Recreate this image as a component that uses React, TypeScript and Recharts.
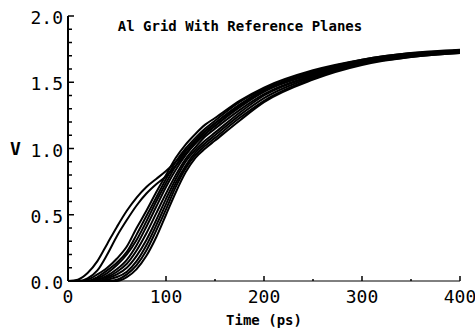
import React from 'react';
import { LineChart, Line, XAxis, YAxis } from 'recharts';

// time points (ps)
const times = [0, 10, 20, 30, 40, 50, 60, 70, 80, 90, 100, 110, 120, 130, 140, 150, 175, 200, 250, 300, 350, 400];

// voltage waveforms (V), one per node
const waveA = [0, 0.01, 0.06, 0.15, 0.28, 0.41, 0.53, 0.63, 0.71, 0.77, 0.83, 0.9, 0.98, 1.06, 1.13, 1.19, 1.33, 1.44, 1.58, 1.66, 1.71, 1.74];
const waveB = [0, 0, 0.02, 0.08, 0.2, 0.34, 0.46, 0.57, 0.66, 0.73, 0.79, 0.87, 0.96, 1.04, 1.11, 1.17, 1.32, 1.43, 1.57, 1.66, 1.71, 1.74];
const waveC1 = [0, 0, 0.01, 0.05, 0.1, 0.17, 0.26, 0.4, 0.53, 0.67, 0.8, 0.93, 1.03, 1.11, 1.18, 1.23, 1.36, 1.46, 1.59, 1.67, 1.72, 1.745];
const waveC2 = [0, 0, 0, 0.03, 0.08, 0.14, 0.22, 0.35, 0.49, 0.63, 0.77, 0.9, 1.0, 1.08, 1.15, 1.21, 1.35, 1.45, 1.58, 1.67, 1.72, 1.74];
const waveC3 = [0, 0, 0, 0.02, 0.06, 0.12, 0.2, 0.31, 0.45, 0.6, 0.74, 0.87, 0.98, 1.06, 1.13, 1.19, 1.33, 1.44, 1.57, 1.66, 1.71, 1.74];
const waveC4 = [0, 0, 0, 0.01, 0.04, 0.09, 0.16, 0.27, 0.41, 0.56, 0.71, 0.84, 0.95, 1.04, 1.11, 1.17, 1.31, 1.43, 1.56, 1.66, 1.71, 1.73];
const waveC5 = [0, 0, 0, 0.01, 0.03, 0.07, 0.13, 0.23, 0.36, 0.51, 0.66, 0.8, 0.92, 1.01, 1.09, 1.15, 1.29, 1.41, 1.55, 1.65, 1.7, 1.73];
const waveC6 = [0, 0, 0, 0, 0.02, 0.05, 0.1, 0.19, 0.31, 0.46, 0.62, 0.77, 0.9, 0.99, 1.06, 1.12, 1.27, 1.4, 1.55, 1.65, 1.7, 1.73];
const waveC7 = [0, 0, 0, 0, 0.01, 0.03, 0.07, 0.15, 0.27, 0.42, 0.58, 0.74, 0.87, 0.97, 1.04, 1.1, 1.25, 1.38, 1.54, 1.64, 1.7, 1.73];
const waveC8 = [0, 0, 0, 0, 0, 0.01, 0.05, 0.12, 0.23, 0.38, 0.54, 0.71, 0.85, 0.95, 1.02, 1.08, 1.23, 1.36, 1.53, 1.64, 1.69, 1.72];
const waveC9 = [0, 0, 0, 0, 0, 0, 0.03, 0.09, 0.19, 0.33, 0.5, 0.67, 0.82, 0.93, 1.0, 1.06, 1.21, 1.35, 1.52, 1.63, 1.69, 1.72];

const waves = [waveA, waveB, waveC1, waveC2, waveC3, waveC4, waveC5, waveC6, waveC7, waveC8, waveC9];

// axis ticks: labelled majors plus unlabelled minors
const xTicks = [0, 50, 100, 150, 200, 250, 300, 350, 400];
const xMajor = [0, 100, 200, 300, 400];
const yTicks = [0, 0.1, 0.2, 0.3, 0.4, 0.5, 0.6, 0.7, 0.8, 0.9, 1.0, 1.1, 1.2, 1.3, 1.4, 1.5, 1.6, 1.7, 1.8, 1.9, 2.0];
const yMajor = [0, 0.5, 1.0, 1.5, 2.0];

const chartData = times.map((t, i) => {
  const row: Record<string, number> = { t };
  waves.forEach((w, k) => {
    row[`v${k}`] = w[i];
  });
  return row;
});

const tickFont = { fontFamily: 'DejaVu Sans Mono', fontSize: 18, fill: '#000' };
const labelFont = { fontFamily: 'DejaVu Sans Mono', fontSize: 14, fontWeight: 700, fill: '#000' };

// ticks point into the plot, so the tick mark is drawn here along with its label
const XTick = ({ x, y, payload }: any) => {
  const major = xMajor.includes(payload.value);
  return (
    <g>
      <line x1={x} y1={y} x2={x} y2={y - (major ? 5 : 2)} stroke="#000" strokeWidth={1.5} />
      {major && (
        <text x={x} y={y + 22} textAnchor="middle" style={tickFont}>
          {payload.value}
        </text>
      )}
    </g>
  );
};

const YTick = ({ x, y, payload }: any) => {
  const major = yMajor.some((m) => Math.abs(m - payload.value) < 1e-6);
  return (
    <g>
      <line x1={x} y1={y} x2={x + (major ? 6 : 4)} y2={y} stroke="#000" strokeWidth={1.5} />
      {major && (
        <text x={x - 5} y={y + 8} textAnchor="end" style={tickFont}>
          {payload.value.toFixed(1)}
        </text>
      )}
    </g>
  );
};

export default function App() {
  return (
    <div style={{ position: 'absolute', left: 0, top: 0, background: '#fff' }}>
      <LineChart
        width={475}
        height={332}
        data={chartData}
        margin={{ top: 16, right: 15, bottom: 5, left: 8 }}
        style={{ overflow: 'visible' }}
      >
        <XAxis
          dataKey="t"
          type="number"
          domain={[0, 400]}
          ticks={xTicks}
          interval={0}
          tickSize={0}
          tickMargin={0}
          tickLine={false}
          tick={<XTick />}
          axisLine={{ stroke: '#000', strokeWidth: 1 }}
          height={46}
          label={{ value: 'Time (ps)', position: 'insideBottom', offset: 2, style: labelFont }}
        />
        <YAxis
          domain={[0, 2]}
          ticks={yTicks}
          interval={0}
          tickSize={0}
          tickMargin={0}
          tickLine={false}
          tick={<YTick />}
          axisLine={{ stroke: '#000', strokeWidth: 2 }}
          width={60}
          label={{ value: 'V', position: 'insideLeft', offset: 2, style: { ...tickFont, fontWeight: 700 } }}
        />
        {waves.map((_, k) => (
          <Line
            key={k}
            type="monotone"
            dataKey={`v${k}`}
            stroke="#000"
            strokeWidth={2}
            dot={false}
            activeDot={false}
            isAnimationActive={false}
          />
        ))}
        <text x={240} y={31} textAnchor="middle" style={labelFont}>
          Al Grid With Reference Planes
        </text>
      </LineChart>
    </div>
  );
}
